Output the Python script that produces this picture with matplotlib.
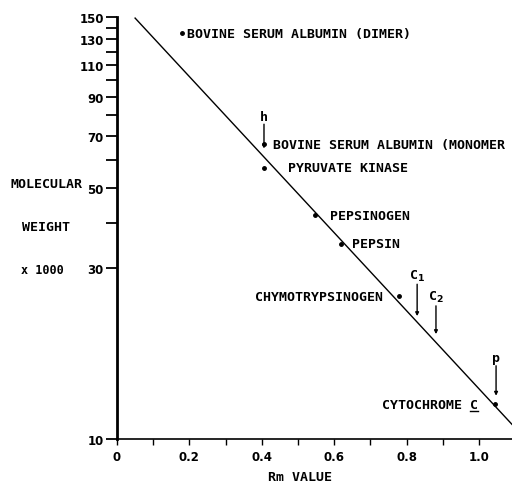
import matplotlib.pyplot as plt
from matplotlib.ticker import FixedLocator, NullFormatter

# protein standards: Rm value vs molecular weight (x1000)
proteins = ['BOVINE SERUM ALBUMIN (DIMER)', 'BOVINE SERUM ALBUMIN (MONOMER',
            'PYRUVATE KINASE', 'PEPSINOGEN', 'PEPSIN', 'CHYMOTRYPSINOGEN', 'CYTOCHROME C']
rm_values = [0.18, 0.406, 0.406, 0.547, 0.619, 0.78, 1.044]
mol_weights = [135, 66.3, 57, 42, 35, 25, 12.5]

# fitted line end points
fit_rm = [0.05, 1.094]
fit_mw = [149, 10.9]

# arrows for unknown bands (label, Rm, tip, top of shaft)
arrow_labels = ['h', 'C$_1$', 'C$_2$', 'p']
arrow_rm = [0.406, 0.829, 0.881, 1.047]
arrow_tip = [64.5, 22, 19.6, 13.2]
arrow_top = [75.4, 27.0, 23.5, 16.0]

yticks = [10, 30, 50, 70, 90, 110, 130, 150]
yminor = [40, 60, 80, 100, 120, 140]
xticks = [0, 0.2, 0.4, 0.6, 0.8, 1.0]
xticklabels = ['0', '0.2', '0.4', '0.6', '0.8', '1.0']
xminor = [0.1, 0.3, 0.5, 0.7, 0.9]

label_font = ['DejaVu Sans Mono', 'DejaVu Sans']

plt.rcParams['font.family'] = ['DejaVu Sans']
plt.rcParams['font.weight'] = 'bold'

fig = plt.figure(figsize=(5.12, 4.85), dpi=100)
ax = fig.add_axes([0.2285, 0.0928, 0.7715, 0.870])

ax.plot(fit_rm, fit_mw, color='black', lw=1.0)
ax.plot(rm_values, mol_weights, 'o', color='black', ms=2.5)

ax.set_yscale('log')
ax.set_ylim(10, 150)
ax.set_xlim(0, 1.091)
ax.yaxis.set_major_locator(FixedLocator(yticks))
ax.yaxis.set_minor_locator(FixedLocator(yminor))
ax.yaxis.set_minor_formatter(NullFormatter())
ax.set_yticklabels([str(t) for t in yticks])
ax.set_xticks(xticks)
ax.set_xticklabels(xticklabels)
ax.xaxis.set_minor_locator(FixedLocator(xminor))

for s in ['top', 'right']:
    ax.spines[s].set_visible(False)
ax.spines['left'].set_linewidth(2)
ax.spines['bottom'].set_linewidth(1.2)
ax.tick_params(axis='y', which='both', length=8, width=1.3, labelsize=8.5, pad=1.5)
ax.tick_params(axis='x', which='both', length=4, width=1, labelsize=8.5, pad=4)

ax.set_xlabel('Rm VALUE', fontsize=9.5, fontweight='bold', family=label_font)
ax.xaxis.set_label_coords(0.463, -0.074)

# labels next to each point
lab_kw = dict(fontsize=9.5, fontweight='bold', va='center', family=label_font)
ax.text(0.193, mol_weights[0], proteins[0], ha='left', **lab_kw)
ax.text(0.431, mol_weights[1], proteins[1], ha='left', **lab_kw)
ax.text(0.472, mol_weights[2], proteins[2], ha='left', **lab_kw)
ax.text(0.588, mol_weights[3], proteins[3], ha='left', **lab_kw)
ax.text(0.649, mol_weights[4], proteins[4], ha='left', **lab_kw)
ax.text(0.735, mol_weights[5], proteins[5], ha='right', **lab_kw)
cyto = ax.text(0.997, mol_weights[6], proteins[6], ha='right', **lab_kw)

# arrows
for lab, xr, yt, ytop in zip(arrow_labels, arrow_rm, arrow_tip, arrow_top):
    ax.annotate('', xy=(xr, yt), xytext=(xr, ytop),
                arrowprops=dict(arrowstyle='-|>', color='black', lw=1.0,
                                mutation_scale=5, shrinkA=0, shrinkB=0))
    ax.text(xr, ytop * 1.01, lab, ha='center', va='bottom', fontsize=9.5,
            fontweight='bold', family=label_font)

# y axis title on the left
side_kw = dict(ha='center', va='center', fontsize=9.5, fontweight='bold', family=label_font)
fig.text(0.0905, 1 - 185 / 485, 'MOLECULAR', **side_kw)
fig.text(0.0905, 1 - 228 / 485, 'WEIGHT', **side_kw)
fig.text(0.0835, 1 - 271 / 485, 'x 1000', ha='center', va='center', fontsize=8.5,
         fontweight='bold', family=label_font)

# underline the final "C" of cytochrome c
fig.canvas.draw()
bb = cyto.get_window_extent()
cw = bb.width / len(proteins[6])
ax.plot([bb.x1 - cw, bb.x1], [bb.y0 - 0.5, bb.y0 - 0.5], color='black', lw=1,
        transform=None, clip_on=False)

fig.savefig('out.png', dpi=100)
